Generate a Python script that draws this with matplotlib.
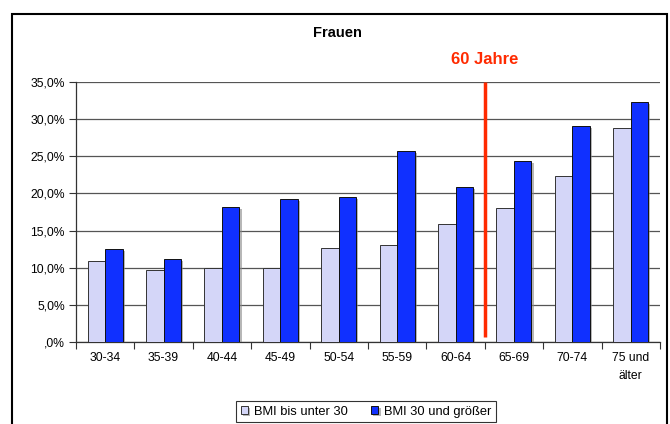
import matplotlib
matplotlib.use("Agg")
import matplotlib.pyplot as plt
import matplotlib.patheffects as pe
from matplotlib.patches import Rectangle
from matplotlib.ticker import FuncFormatter, FixedLocator
import numpy as np

plt.rcParams['font.family'] = ['Liberation Sans', 'DejaVu Sans']

categories = ["30-34", "35-39", "40-44", "45-49", "50-54", "55-59",
              "60-64", "65-69", "70-74", "75 und\nälter"]
bmi_unter_30 = [10.9, 9.7, 10.0, 10.0, 12.6, 13.0, 15.9, 18.0, 22.3, 28.8]
bmi_30_plus = [12.5, 11.2, 18.2, 19.2, 19.5, 25.7, 20.9, 24.4, 29.1, 32.3]
series_labels = ["BMI bis unter 30", "BMI 30 und größer"]
threshold_pos = 6.5
threshold_label = "60 Jahre"

light = "#D4D6F8"
blue = "#1030FF"

fig = plt.figure(figsize=(6.70, 4.24), dpi=100)
ax = fig.add_axes([0.1134, 0.1934, 0.8716, 0.6132])

x = np.arange(len(categories))
w = 0.3
shadow = [pe.SimplePatchShadow(offset=(1.5, -1.5), shadow_rgbFace="#888888", alpha=0.6), pe.Normal()]
b1 = ax.bar(x - w / 2, bmi_unter_30, w, color=light, edgecolor="#333333", linewidth=0.7,
            label=series_labels[0], zorder=3)
b2 = ax.bar(x + w / 2, bmi_30_plus, w, color=blue, edgecolor="#111111", linewidth=0.7,
            label=series_labels[1], zorder=3)
for bar in list(b1) + list(b2):
    bar.set_path_effects(shadow)

ax.set_xlim(-0.5, len(categories) - 0.5)
ax.set_ylim(0, 35)
ax.set_yticks(np.arange(0, 36, 5))
ax.yaxis.set_major_formatter(FuncFormatter(
    lambda v, p: ",0%" if v == 0 else f"{v:.1f}%".replace(".", ",")))
ax.grid(axis="y", color="#555555", linewidth=0.9, zorder=0)
ax.set_axisbelow(True)

ax.set_xticks(x)
ax.set_xticklabels(categories, fontsize=8.7, linespacing=1.75)
ax.xaxis.set_minor_locator(FixedLocator(np.arange(-0.5, len(categories), 1)))
ax.tick_params(axis="x", which="major", length=0, pad=7)
ax.tick_params(axis="x", which="minor", length=5, width=0.8, color="#333333")
ax.tick_params(axis="y", length=5, width=0.8, color="#333333", labelsize=8.7, pad=3)

for s in ["top", "right"]:
    ax.spines[s].set_visible(False)
for s in ["left", "bottom"]:
    ax.spines[s].set_color("#333333")
    ax.spines[s].set_linewidth(0.9)

# threshold marker at age 60
ax.plot([threshold_pos, threshold_pos], [0.7, 35], color="#FF2A00", linewidth=2.5,
        zorder=4, solid_capstyle="butt")
ax.text(threshold_pos, 38.0, threshold_label, color="#FF2A00", fontsize=12,
        fontweight="bold", ha="center", va="center", clip_on=False)

fig.text(0.504, 0.922, "Frauen", fontsize=10.5, fontweight="bold", ha="center", va="center")

leg = fig.legend(handles=[b1, b2], labels=series_labels, loc="upper center",
                 bbox_to_anchor=(0.546, 0.054), ncol=2, fontsize=9.3, frameon=True,
                 fancybox=False, edgecolor="#000000", handlelength=0.6, handleheight=0.6,
                 handletextpad=0.4, columnspacing=1.8, borderpad=0.35, borderaxespad=0)
leg.get_frame().set_linewidth(0.8)

# outer chart border
fig.add_artist(Rectangle((0.018, -0.05), 0.977, 1.017, transform=fig.transFigure,
                         fill=False, edgecolor="#000000", linewidth=1.5))

fig.savefig("out.png", dpi=100)
